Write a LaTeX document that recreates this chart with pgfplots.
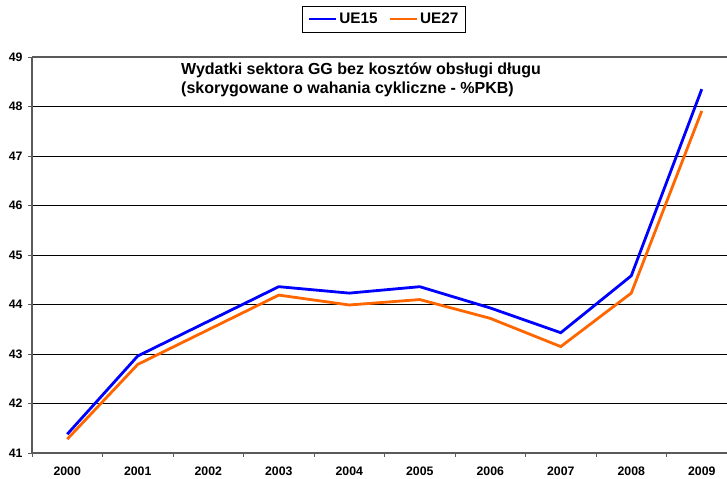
\documentclass[border=0pt]{standalone}
\usepackage{pgfplots}
\pgfplotsset{compat=1.18}
\usepackage{fontspec}
\setmainfont{Liberation Sans}
\definecolor{ueblue}{RGB}{0,0,255}
\definecolor{ueorange}{RGB}{255,102,0}
\definecolor{axgray}{RGB}{90,90,90}
\begin{document}
\begin{tikzpicture}[x=1bp,y=1bp]
\useasboundingbox (-32bp,-26bp) rectangle (695bp,453bp);
\begin{axis}[
  at={(0,0)}, anchor=south west,
  width=695bp, height=396bp, scale only axis,
  xmin=-0.5, xmax=9.358, ymin=41, ymax=49,
  axis x line*=bottom, axis y line*=left,
  axis line style={axgray, line width=1.6bp, -},
  xtick={0,...,9},
  xticklabels={2000,2001,2002,2003,2004,2005,2006,2007,2008,2009},
  minor xtick={-0.5,0.5,...,8.5},
  major x tick style={draw=none},
  minor x tick style={axgray, line width=0.8bp},
  minor tick length=4bp,
  ytick={41,...,48},
  extra y ticks={49},
  extra y tick style={grid=none},
  major tick length=4bp,
  y tick style={axgray, line width=0.8bp},
  tick align=outside,
  ymajorgrids,
  major grid style={black, line width=0.8bp},
  tick label style={font=\fontsize{12.3bp}{14bp}\selectfont\bfseries},
  /pgf/number format/assume math mode=true,
  xticklabel style={yshift=-6bp},
  yticklabel style={xshift=-2bp},
  legend style={at={(0.5065,1.096)}, anchor=center, draw=black, line width=0.8bp,
    font=\fontsize{15.3bp}{17bp}\selectfont\bfseries, inner xsep=5bp, inner ysep=5bp,
    /tikz/every even column/.append style={column sep=9bp}},
  legend columns=2,
  legend image code/.code={\draw[#1, line width=2.6bp] (0bp,0bp) -- (27bp,0bp);},
  clip=false,
]
\draw[axgray, line width=1.6bp] (rel axis cs:0,1) -- (rel axis cs:1,1);
\addplot[ueblue, line width=2.8bp] coordinates {
  (0,41.38) (1,42.96) (2,43.66) (3,44.36) (4,44.23) (5,44.36) (6,43.93) (7,43.43) (8,44.58) (9,48.35)};
\addlegendentry{UE15}
\addplot[ueorange, line width=2.8bp] coordinates {
  (0,41.28) (1,42.79) (2,43.49) (3,44.19) (4,43.99) (5,44.10) (6,43.72) (7,43.15) (8,44.23) (9,47.91)};
\addlegendentry{UE27}
\end{axis}
\node[anchor=base west, font=\fontsize{16bp}{19bp}\selectfont\bfseries, inner sep=0] at (149bp,378bp) {Wydatki sektora GG bez kosztów obsługi długu};
\node[anchor=base west, font=\fontsize{16bp}{19bp}\selectfont\bfseries, inner sep=0] at (149bp,359bp) {(skorygowane o wahania cykliczne - \%PKB)};
\end{tikzpicture}
\end{document}
